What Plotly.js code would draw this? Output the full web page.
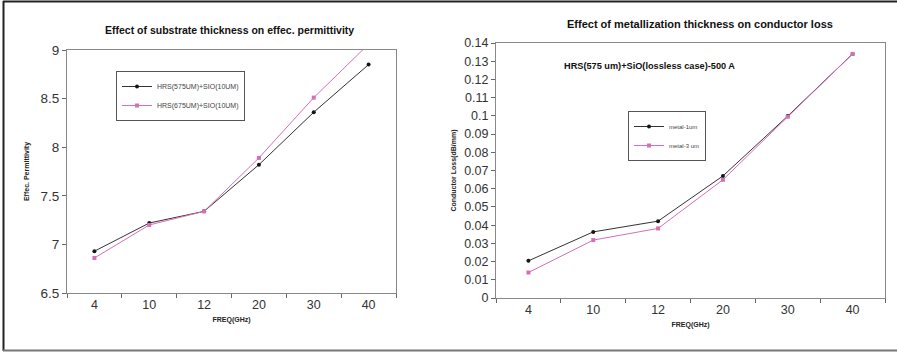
<!DOCTYPE html>
<html><head><meta charset="utf-8">
<script src="https://cdn.plot.ly/plotly-3.0.1.min.js"></script>
<style>html,body{margin:0;padding:0;background:#fff}#chart{width:897px;height:353px}</style>
</head><body><div id="chart"></div>
<script>
const freqCategories = ['4','10','12','20','30','40'];
const permittivity575 = [6.93, 7.22, 7.34, 7.82, 8.36, 8.85];
const permittivity675 = [6.86, 7.20, 7.34, 7.89, 8.51, 9.06];
const lossMetal1um = [0.0204, 0.0363, 0.0422, 0.0670, 0.0999, 0.1340];
const lossMetal3um = [0.0140, 0.0318, 0.0382, 0.0649, 0.0995, 0.1340];
const permTicks = [6.5, 7, 7.5, 8, 8.5, 9];
const lossTicks = [0,0.01,0.02,0.03,0.04,0.05,0.06,0.07,0.08,0.09,0.1,0.11,0.12,0.13,0.14];

const W = 897, H = 353;
const px = v => v / W, py = v => 1 - v / H;
const BLACK = '#151515', PINK = '#d46fb8';
const FONT = 'Liberation Sans, Arial, sans-serif';

const traces = [
  {x: freqCategories, y: permittivity575, name: 'HRS(575UM)+SIO(10UM)', mode: 'lines+markers',
   line: {color: '#333', width: 1}, marker: {color: BLACK, size: 4, symbol: 'circle'},
   xaxis: 'x', yaxis: 'y', legend: 'legend'},
  {x: freqCategories, y: permittivity675, name: 'HRS(675UM)+SIO(10UM)', mode: 'lines+markers',
   line: {color: PINK, width: 1}, marker: {color: PINK, size: 4, symbol: 'square'},
   xaxis: 'x', yaxis: 'y', legend: 'legend'},
  {x: freqCategories, y: lossMetal1um, name: 'metal-1um', mode: 'lines+markers',
   line: {color: '#333', width: 1}, marker: {color: BLACK, size: 4, symbol: 'circle'},
   xaxis: 'x2', yaxis: 'y2', legend: 'legend2'},
  {x: freqCategories, y: lossMetal3um, name: 'metal-3 um', mode: 'lines+markers',
   line: {color: PINK, width: 1}, marker: {color: PINK, size: 4, symbol: 'square'},
   xaxis: 'x2', yaxis: 'y2', legend: 'legend2'}
];

const xBase = {
  type: 'category', categoryorder: 'array', categoryarray: freqCategories,
  range: [-0.5, 5.5], showgrid: false, zeroline: false,
  showline: true, linecolor: '#888', linewidth: 1, mirror: true,
  ticks: 'outside', tickson: 'boundaries', ticklen: 4, tickcolor: '#666',
  tickfont: {family: FONT, size: 12.5, color: '#333'}, automargin: false
};
const yBase = {
  showgrid: false, zeroline: false, showline: true, linecolor: '#888', linewidth: 1, mirror: true,
  ticks: 'outside', ticklen: 4, tickcolor: '#666', automargin: false
};

const layout = {
  width: W, height: H, margin: {l: 0, r: 0, t: 0, b: 0},
  paper_bgcolor: '#fff', plot_bgcolor: '#fff',
  font: {family: FONT, color: '#222'},
  showlegend: true,
  xaxis: Object.assign({}, xBase, {domain: [px(67), px(396)], anchor: 'y',
    title: {text: '<b>FREQ(GHz)</b>', font: {size: 7, family: FONT}, standoff: 6}}),
  yaxis: Object.assign({}, yBase, {domain: [py(293), py(50)], anchor: 'x',
    range: [6.5, 9], tickvals: permTicks, ticktext: permTicks.map(String),
    tickfont: {family: FONT, size: 13.5, color: '#333'},
    title: {text: '<b>Effec. Permittivity</b>', font: {size: 7, family: FONT}, standoff: 10}}),
  xaxis2: Object.assign({}, xBase, {domain: [px(496), px(885)], anchor: 'y2',
    title: {text: '<b>FREQ(GHz)</b>', font: {size: 7, family: FONT}, standoff: 6}}),
  yaxis2: Object.assign({}, yBase, {domain: [py(298), py(43)], anchor: 'x2',
    range: [0, 0.14], tickvals: lossTicks, ticktext: lossTicks.map(String),
    tickfont: {family: FONT, size: 12.5, color: '#333'},
    title: {text: '<b>Conductor Loss(dB/mm)</b>', font: {size: 7, family: FONT}, standoff: 6}}),
  legend: {x: px(116), y: py(71), xanchor: 'left', yanchor: 'top',
    bgcolor: '#fff', bordercolor: '#555', borderwidth: 1,
    font: {family: FONT, size: 7, color: '#444'}, tracegroupgap: 0, itemwidth: 30},
  legend2: {x: px(628), y: py(111), xanchor: 'left', yanchor: 'top',
    bgcolor: '#fff', bordercolor: '#555', borderwidth: 1,
    font: {family: FONT, size: 6, color: '#444'}, tracegroupgap: 0, itemwidth: 30},
  annotations: [
    {text: '<b>Effect of substrate thickness on effec. permittivity</b>', xref: 'paper', yref: 'paper',
     x: px(230), y: py(30), xanchor: 'center', yanchor: 'middle', showarrow: false,
     font: {family: FONT, size: 10.5, color: '#111'}},
    {text: '<b>Effect of metallization thickness on conductor loss</b>', xref: 'paper', yref: 'paper',
     x: px(700), y: py(24), xanchor: 'center', yanchor: 'middle', showarrow: false,
     font: {family: FONT, size: 11, color: '#111'}},
    {text: '<b>HRS(575 um)+SiO(lossless case)-500 A</b>', xref: 'paper', yref: 'paper',
     x: px(562), y: py(66), xanchor: 'left', yanchor: 'middle', showarrow: false,
     font: {family: FONT, size: 9.2, color: '#111'}}
  ],
  shapes: [
    {type: 'line', xref: 'paper', yref: 'paper', x0: px(3), x1: 1.01, y0: py(1.5), y1: py(1.5), line: {color: '#222', width: 2}},
    {type: 'line', xref: 'paper', yref: 'paper', x0: px(3.5), x1: px(3.5), y0: py(1), y1: py(351), line: {color: '#222', width: 2}},
    {type: 'line', xref: 'paper', yref: 'paper', x0: px(3), x1: 1.01, y0: py(350.5), y1: py(350.5), line: {color: '#777', width: 2}}
  ]
};

Plotly.newPlot('chart', traces, layout, {staticPlot: true, displayModeBar: false});
</script></body></html>
